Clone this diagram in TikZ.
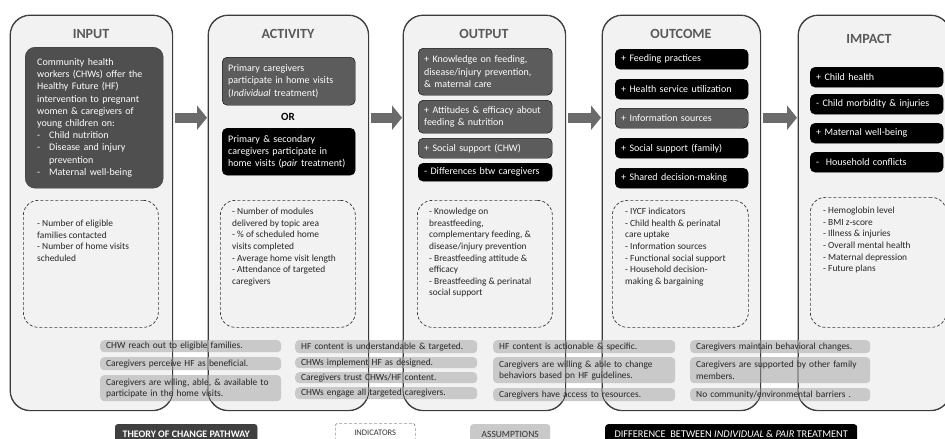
\documentclass[tikz,border=0pt]{standalone}
\usepackage{fontspec}
\setmainfont{Carlito}
\usetikzlibrary{arrows.meta,positioning}
\definecolor{colbg}{HTML}{F2F2F2}
\definecolor{colline}{HTML}{3A3A3A}
\definecolor{headgray}{HTML}{595959}
\definecolor{darkfill}{HTML}{4F4F4F}
\definecolor{midfill}{HTML}{5C5C5C}
\definecolor{assumfill}{HTML}{C9C9C9}
\definecolor{arrowgray}{HTML}{6B6B6B}
\definecolor{legdark}{HTML}{404040}
\hyphenpenalty=10000
\exhyphenpenalty=10000

\begin{document}
\begin{tikzpicture}[
  x=1pt,y=-1pt,
  column/.style={draw=colline, fill=colbg, line width=0.8pt, rounded corners=20pt, anchor=north west, minimum height=395pt, inner sep=0pt},
  head/.style={font=\fontsize{14}{16}\selectfont\bfseries, text=headgray},
  dark/.style={draw=colline, fill=darkfill, text=white, rounded corners=10pt, anchor=north west, align=left, inner xsep=12pt, inner ysep=2pt, font=\fontsize{10}{12.2}\selectfont},
  gbox/.style={draw=black, fill=midfill, text=white, rounded corners=5pt, anchor=north west, align=left, inner xsep=6pt, inner ysep=1pt, font=\fontsize{10}{12.2}\selectfont},
  bbox/.style={gbox, fill=black},
  ind/.style={draw=colline, dash pattern=on 3pt off 2pt, line width=0.7pt, rounded corners=15pt, anchor=north west, inner sep=0pt, minimum height=127pt},
  indtext/.style={anchor=north west, align=left, inner sep=0pt, text=black!85, font=\fontsize{9.4}{11.6}\selectfont},
  assum/.style={fill=assumfill, rounded corners=4pt, anchor=north west, align=left, inner xsep=6pt, inner ysep=0pt, text=black!85, font=\fontsize{9.4}{11.2}\selectfont},
  legend/.style={anchor=north west, minimum height=20pt, inner sep=0pt, font=\fontsize{9.5}{11}\selectfont},
  flow/.style={draw=arrowgray, line width=10pt, -{Triangle[length=10pt,width=24pt]}, shorten <=2pt, shorten >=1pt}
]
\clip (0,0) rectangle (945,439);

% columns
\node[column, minimum width=162pt] (input) at (10,15) {};
\node[column, minimum width=160pt] (activity) at (208,15) {};
\node[column, minimum width=162pt] (output) at (403,15) {};
\node[column, minimum width=158pt] (outcome) at (602,15) {};
\node[column, minimum width=152pt] (impact) at (798,15) {};

\node[head] (inhead) at (91,34) {INPUT};
\node[head] (acthead) at (288,34) {ACTIVITY};
\node[head] (outhead) at (484,34) {OUTPUT};
\node[head] (ochead) at (681,34) {OUTCOME};
\node[head] (imhead) at (869,39) {IMPACT};

% input
\node[dark, text width=114pt, minimum height=141pt] (inbox) at (25,47) {Community health\\workers (CHWs) offer the\\Healthy Future (HF)\\intervention to pregnant\\women \& caregivers of\\young children on:\\\makebox[12pt][l]{-}Child nutrition\\\makebox[12pt][l]{-}Disease and injury\\\hspace*{12pt}prevention\\\makebox[12pt][l]{-}Maternal well-being};

% activity
\node[gbox, text width=121pt, minimum height=48pt] (act1) at (222,57) {Primary caregivers\\participate in home visits\\(\textit{Individual} treatment)};
\node[font=\fontsize{11}{13}\selectfont\bfseries] (actor) at (288,117) {OR};
\node[bbox, text width=121pt, minimum height=47pt] (act2) at (222,128) {Primary \& secondary\\caregivers participate in\\home visits (\textit{pair} treatment)};

% output
\node[gbox, text width=122pt, minimum height=47pt] (out1) at (418,48) {+ Knowledge on feeding,\\disease/injury prevention,\\\& maternal care};
\node[gbox, text width=122pt, minimum height=33pt] (out2) at (418,100) {+ Attitudes \& efficacy about\\feeding \& nutrition};
\node[gbox, text width=122pt, minimum height=20pt] (out3) at (418,138) {+ Social support (CHW)};
\node[bbox, text width=122pt, minimum height=18pt] (out4) at (418,163) {- Differences btw caregivers};

% outcome
\foreach \y/\s/\t [count=\i] in {49/bbox/{+ Feeding practices}, 79/bbox/{+ Health service utilization}, 108/gbox/{+ Information sources}, 138/bbox/{+ Social support (family)}, 168/bbox/{+ Shared decision-making}}
  \node[\s, text width=121pt, minimum height=20pt] (oc\i) at (615,\y) {\t};

% impact
\foreach \y/\t [count=\i] in {67/{+ Child health}, 94/{- Child morbidity \& injuries}, 123/{+ Maternal well-being}, 152/{-\ \ Household conflicts}}
  \node[bbox, text width=121pt, minimum height=20pt] (im\i) at (810,\y) {\t};

% indicators
\node[ind, minimum width=135pt] (inind) at (23,200) {};
\node[ind, minimum width=135pt] (actind) at (220,200) {};
\node[ind, minimum width=135pt] (outind) at (417,200) {};
\node[ind, minimum width=136pt] (ocind) at (612,200) {};
\node[ind, minimum width=136pt, minimum height=130pt] (imind) at (810,197) {};

\node[indtext] (inindtxt) at (37,220) {- Number of eligible\\families contacted\\- Number of home visits\\scheduled};
\node[indtext] (actindtxt) at (232,208) {- Number of modules\\delivered by topic area\\- \% of scheduled home\\visits completed\\- Average home visit length\\- Attendance of targeted\\caregivers};
\node[indtext] (outindtxt) at (429,208) {- Knowledge on\\breastfeeding,\\complementary feeding, \&\\disease/injury prevention\\- Breastfeeding attitude \&\\efficacy\\- Breastfeeding \& perinatal\\social support};
\node[indtext] (ocindtxt) at (625,208) {- IYCF indicators\\- Child health \& perinatal\\care uptake\\- Information sources\\- Functional social support\\- Household decision-\\making \& bargaining};
\node[indtext] (imindtxt) at (823,207) {- Hemoglobin level\\- BMI z-score\\- Illness \& injuries\\- Overall mental health\\- Maternal depression\\- Future plans};

% assumptions
\node[assum, text width=169pt, minimum height=12pt] (as11) at (100,340) {CHW reach out to eligible families.};
\node[assum, text width=169pt, minimum height=13pt] (as12) at (100,357) {Caregivers perceive HF as beneficial.};
\node[assum, text width=169pt, minimum height=26pt] (as13) at (100,375) {Caregivers are wiling, able, \& available to\\participate in the home visits.};
\node[assum, text width=170pt, minimum height=13pt] (as21) at (295,340) {HF content is understandable \& targeted.};
\node[assum, text width=170pt, minimum height=11pt] (as22) at (295,357) {CHWs implement HF as designed.};
\node[assum, text width=170pt, minimum height=11pt] (as23) at (295,372) {Caregivers trust CHWs/HF content.};
\node[assum, text width=170pt, minimum height=12pt] (as24) at (295,387) {CHWs engage all targeted caregivers.};
\node[assum, text width=170pt, minimum height=13pt] (as31) at (493,340) {HF content is actionable \& specific.};
\node[assum, text width=170pt, minimum height=26pt] (as32) at (493,357) {Caregivers are willing \& able to change\\behaviors based on HF guidelines.};
\node[assum, text width=170pt, minimum height=13pt] (as33) at (493,388) {Caregivers have access to resources.};
\node[assum, text width=168pt, minimum height=13pt] (as41) at (690,340) {Caregivers maintain behavioral changes.};
\node[assum, text width=168pt, minimum height=26pt] (as42) at (690,357) {Caregivers are supported by other family\\members.};
\node[assum, text width=168pt, minimum height=13pt] (as43) at (690,388) {No community/environmental barriers .};

% column borders over the assumptions
\foreach \c in {input,activity,output,outcome,impact}
  \draw[colline, line width=0.8pt, rounded corners=20pt] (\c.north west) rectangle (\c.south east);

% pathway arrows
\foreach \a/\b in {input/activity, activity/output, output/outcome, outcome/impact}
  \draw[flow] (\a.east |- inbox.east) -- (\b.west |- inbox.east);

% legend
\node[legend, draw=colline, fill=legdark, text=white, rounded corners=3pt, minimum width=142pt, font=\fontsize{10}{11}\selectfont\bfseries] (lgpath) at (115,424) {THEORY OF CHANGE PATHWAY};
\node[legend, draw=colline, dash pattern=on 3pt off 2pt, rounded corners=3pt, minimum width=80pt, text=black!80, font=\fontsize{8.5}{10}\selectfont] (lgind) at (335,423) {INDICATORS};
\node[legend, fill=assumfill, rounded corners=3pt, minimum width=80pt, text=black!80] (lgass) at (470,424) {ASSUMPTIONS};
\node[legend, fill=black, text=white, rounded corners=3pt, minimum width=252pt, font=\fontsize{10.3}{11}\selectfont] (lgdiff) at (605,424) {DIFFERENCE\ \ BETWEEN \textit{INDIVIDUAL} \& \textit{PAIR} TREATMENT};
\end{tikzpicture}
\end{document}
